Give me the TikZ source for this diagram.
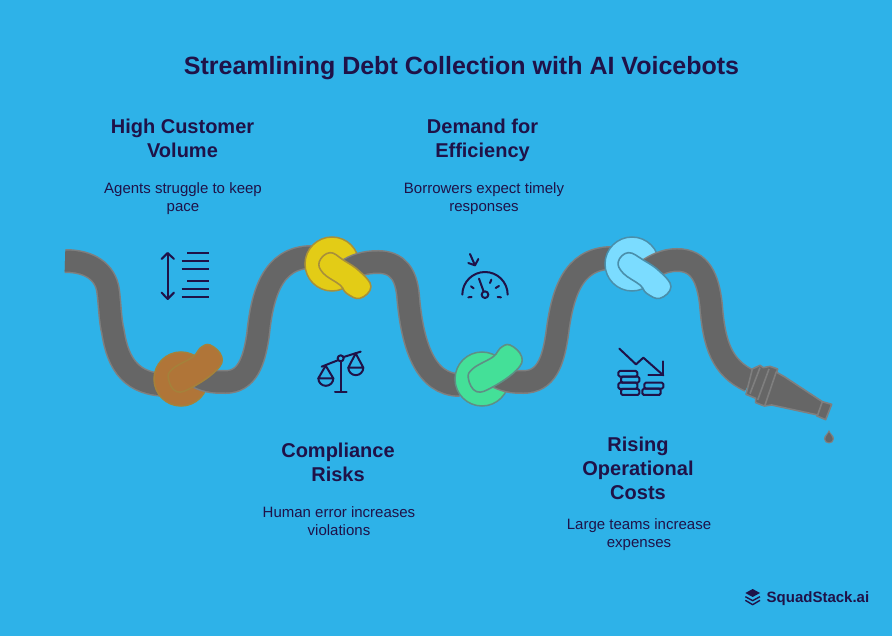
\documentclass[tikz,border=0pt]{standalone}
\usepackage{fontspec}
\setmainfont{Liberation Sans}
\definecolor{bgblue}{HTML}{2EB2E8}
\definecolor{navy}{HTML}{1F1248}
\definecolor{hosefill}{HTML}{666666}
\definecolor{hoseline}{HTML}{7F7F7F}
\definecolor{HTMLbrown}{HTML}{B07538}
\definecolor{HTMLbrownline}{HTML}{A5813A}
\definecolor{HTMLyellow}{HTML}{E3CC16}
\definecolor{HTMLyellowline}{HTML}{A8903A}
\definecolor{HTMLgreen}{HTML}{44E098}
\definecolor{HTMLgreenline}{HTML}{5F8F85}
\definecolor{HTMLsky}{HTML}{7BDCFF}
\definecolor{HTMLskyline}{HTML}{4A8FAB}
\tikzset{
  head/.style={text=navy,font=\bfseries\fontsize{20}{24}\selectfont,align=center,inner sep=0pt,anchor=north},
  body/.style={text=navy,font=\fontsize{15}{18}\selectfont,align=center,inner sep=0pt,anchor=north},
  icon/.style={draw=navy,line width=2pt,line cap=round,line join=round},
  metal/.style={draw=hoseline,fill=hosefill,line width=1.6pt,line join=round},
  lobeline/.style={line width=1.6pt,line join=round},
  zoomA/.style={shift={(150,245)},x=0.3333pt,y=-0.3333pt},
  zoomB/.style={shift={(310,345)},x=0.3333pt,y=-0.3333pt},
  zoomC/.style={shift={(455,248)},x=0.3333pt,y=-0.3333pt},
  zoomD/.style={shift={(610,342)},x=0.3333pt,y=-0.3333pt},
  zoomE/.style={shift={(735,355)},x=0.3333pt,y=-0.3333pt},
  zoomF/.style={shift={(730,575)},x=0.3333pt,y=-0.3333pt},
  zoomG/.style={shift={(60,230)},x=0.3333pt,y=-0.3333pt},
  zoomH/.style={shift={(380,230)},x=0.3333pt,y=-0.3333pt},
}
\newcommand{\hoseseg}[1]{%
  \draw[hoseline,line width=24pt] #1;
  \draw[hosefill,line width=21pt] #1;}
\begin{document}
\begin{tikzpicture}[x=1pt,y=-1pt]
\path[fill=bgblue] (0,0) rectangle (892,636);
\useasboundingbox (0,0) rectangle (892,636);

% first hose stretch and knot
\hoseseg{(65,261) .. controls (90,261) and (105,272) .. (108,290) .. controls (110,305) and (110,320) .. (113,332) .. controls (118,365) and (132,385) .. (168,385)}
\draw[fill=HTMLbrown,draw=HTMLbrownline,line width=1.5pt] (181,379) circle (27);
\hoseseg{(198,377) .. controls (208,382) and (217,382) .. (225,382) .. controls (247,382) and (254,362) .. (258,335) .. controls (262,295) and (272,257) .. (312,257)}
\begin{scope}[zoomG]
\draw[lobeline,fill=HTMLbrown,draw=HTMLbrownline] plot[smooth cycle,tension=0.7] coordinates {(325,445) (340,415) (400,380) (420,355) (450,345) (485,380) (470,420) (400,470) (350,485)};
\end{scope}

% second
\draw[fill=HTMLyellow,draw=HTMLyellowline,line width=1.5pt] (332,264) circle (27);
\hoseseg{(345,272) .. controls (355,265) and (365,262) .. (378,262) .. controls (398,262) and (406,275) .. (408,295) .. controls (412,345) and (425,385) .. (460,385)}
\begin{scope}[zoomG]
\draw[lobeline,fill=HTMLyellow,draw=HTMLyellowline] plot[smooth cycle,tension=0.7] coordinates {(778,95) (810,68) (850,90) (900,125) (933,170) (900,205) (860,190) (840,165) (790,130)};
\end{scope}

% third
\draw[fill=HTMLgreen,draw=HTMLgreenline,line width=1.5pt] (482,379) circle (27);
\hoseseg{(498,377) .. controls (508,382) and (517,382) .. (523,382) .. controls (546,382) and (553,362) .. (557,335) .. controls (562,295) and (572,258) .. (612,258)}
\begin{scope}[zoomH]
\draw[lobeline,fill=HTMLgreen,draw=HTMLgreenline] plot[smooth cycle,tension=0.7] coordinates {(265,445) (280,415) (340,380) (360,355) (390,345) (425,380) (410,420) (340,470) (290,485)};
\end{scope}

% fourth
\draw[fill=HTMLsky,draw=HTMLskyline,line width=1.5pt] (632,264) circle (27);
\hoseseg{(645,272) .. controls (655,265) and (665,260) .. (677,260) .. controls (700,260) and (708,278) .. (711,305) .. controls (714,345) and (722,368) .. (750,381)}
\begin{scope}[zoomH]
\draw[lobeline,fill=HTMLsky,draw=HTMLskyline] plot[smooth cycle,tension=0.7] coordinates {(715,95) (745,68) (790,90) (840,125) (873,170) (840,205) (800,190) (780,165) (730,130)};
\end{scope}

% nozzle
\begin{scope}[zoomE]
\draw[metal] (52,42) -- (75,31) -- (85,38) -- (105,34) -- (128,42) -- (125,52) -- (148,65) -- (262,140) -- (290,148) -- (272,194) -- (246,183) -- (248,180) -- (110,150) -- (88,153) -- (62,143) -- (62,130) -- (33,118) -- cycle;
\draw[hoseline,line width=1.6pt] (75,38) -- (45,116);
\draw[hoseline,line width=1.6pt] (102,42) -- (68,135);
\draw[hoseline,line width=1.6pt] (124,50) -- (90,150);
\draw[hoseline,line width=1.6pt] (262,140) -- (248,180);
\fill[hoseline] (282,225) .. controls (287,238) and (298,242) .. (297,252) .. controls (296,270) and (268,270) .. (267,252) .. controls (266,242) and (277,238) .. (282,225) -- cycle;
\fill[hosefill] (282,232) .. controls (286,242) and (294,245) .. (293,252) .. controls (292,265) and (272,265) .. (271,252) .. controls (270,245) and (278,242) .. (282,232) -- cycle;
\end{scope}

% icon: volume
\begin{scope}[zoomA]
\draw[icon] (53,25) -- (53,160);
\draw[icon] (35,42) -- (53,24) -- (72,42);
\draw[icon] (35,143) -- (53,162) -- (72,143);
\draw[icon,line cap=butt] (112,24) -- (176,24);
\draw[icon,line cap=butt] (95,48) -- (176,48);
\draw[icon,line cap=butt] (95,72) -- (176,72);
\draw[icon,line cap=butt] (112,108) -- (176,108);
\draw[icon,line cap=butt] (95,132) -- (176,132);
\draw[icon,line cap=butt] (95,156) -- (176,156);
\end{scope}

% icon: scales
\begin{scope}[zoomB]
\draw[icon] (35,65) -- (83,46);
\draw[icon] (101,36) -- (152,20);
\draw[icon] (92,40) circle (9);
\draw[icon] (92,50) -- (92,140);
\draw[icon] (75,140) -- (110,140);
\draw[icon] (47,62) -- (25,100) -- (70,100) -- cycle;
\draw[icon] (25,100) arc[start angle=180,end angle=0,radius=22.5];
\draw[icon] (137,25) -- (115,68) -- (160,68) -- cycle;
\draw[icon] (115,68) arc[start angle=180,end angle=0,radius=22.5];
\end{scope}

% icon: gauge
\begin{scope}[zoomC]
\draw[icon] (22,140) arc[start angle=180,end angle=360,radius=68];
\draw[icon] (72,92) -- (85,128);
\draw[icon] (90,140) circle (10);
\draw[icon] (40,148) -- (50,147);
\draw[icon] (48,115) -- (56,121);
\draw[icon] (105,105) -- (109,95);
\draw[icon] (122,120) -- (132,114);
\draw[icon] (128,147) -- (138,148);
\draw[icon] (45,18) -- (60,52);
\draw[icon] (40,45) -- (60,52) -- (70,33);
\end{scope}

% icon: costs
\begin{scope}[zoomD]
\draw[icon] (28,20) -- (78,67) -- (100,47) -- (160,100);
\draw[icon] (115,100) -- (160,100) -- (160,58);
\draw[icon,rounded corners=1.5pt] (25,87) rectangle (82,104);
\draw[icon,rounded corners=1.5pt] (33,104) rectangle (88,122);
\draw[icon,rounded corners=1.5pt] (25,122) rectangle (82,141);
\draw[icon,rounded corners=1.5pt] (33,141) rectangle (88,159);
\draw[icon,rounded corners=1.5pt] (103,122) rectangle (160,140);
\draw[icon,rounded corners=1.5pt] (97,140) rectangle (152,159);
\end{scope}

% texts
\node[text=navy,font=\bfseries\fontsize{25}{30}\selectfont,inner sep=0pt,anchor=base] (title) at (461.5,74.7) {Streamlining Debt Collection with AI Voicebots};
\node[head] (h1) at (182.5,116.2) {\strut High Customer\\Volume};
\node[body] (b1) at (183,180.6) {\strut Agents struggle to keep\\pace};
\node[head] (h2) at (482.5,116.2) {\strut Demand for\\Efficiency};
\node[body] (b2) at (484,180.6) {\strut Borrowers expect timely\\responses};
\node[head] (h3) at (338,440.2) {\strut Compliance\\Risks};
\node[body] (b3) at (339,504.6) {\strut Human error increases\\violations};
\node[head] (h4) at (638,434.2) {\strut Rising\\Operational\\Costs};
\node[body] (b4) at (639,516.6) {\strut Large teams increase\\expenses};

% logo
\begin{scope}[zoomF]
\fill[navy] (68,42) -- (90,54) -- (68,66) -- (46,54) -- cycle;
\draw[navy,line width=1.4pt,line join=round] (46,65) -- (68,77) -- (90,65);
\draw[navy,line width=1.4pt,line join=round] (46,76) -- (68,89) -- (90,76);
\end{scope}
\node[text=navy,font=\bfseries\fontsize{15}{18}\selectfont,inner sep=0pt,anchor=base west] (logo) at (766.5,602) {SquadStack.ai};
\end{tikzpicture}
\end{document}
